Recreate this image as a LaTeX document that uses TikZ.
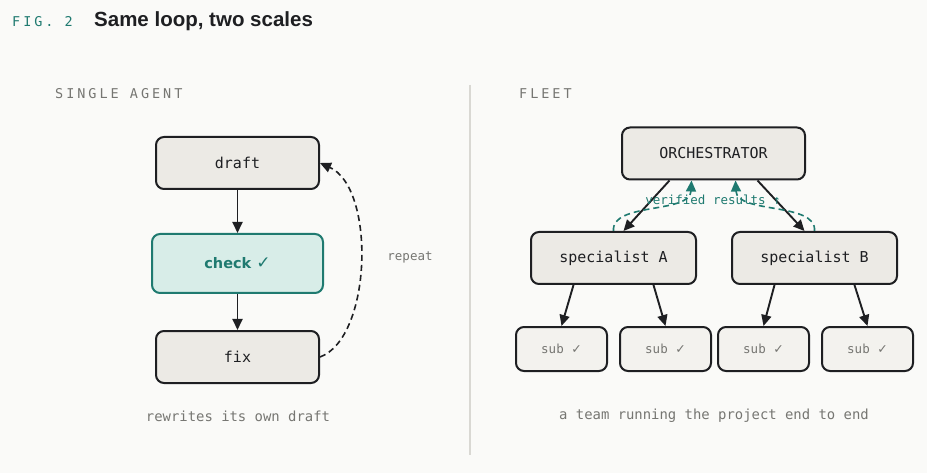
\documentclass[tikz,border=0pt]{standalone}
\usepackage{fontspec}
\setmainfont{DejaVu Sans Mono}
\newfontfamily\headfont{Liberation Sans}
\newfontfamily\checkfont{DejaVu Sans}
\newfontfamily\trackfont[LetterSpace=22]{DejaVu Sans Mono}
\usetikzlibrary{arrows.meta, positioning}
\definecolor{paper}{HTML}{FAFAF8}
\definecolor{boxfill}{HTML}{ECEAE5}
\definecolor{subfill}{HTML}{F3F2EE}
\definecolor{ink}{HTML}{1E1F22}
\definecolor{tealink}{HTML}{1F7A70}
\definecolor{checkfill}{HTML}{D8EDE8}
\definecolor{muted}{HTML}{767672}
\definecolor{rulegray}{HTML}{D9D8D3}
\newcommand{\ok}{{\checkfont ✓}}

\begin{document}
\begin{tikzpicture}[
  x=1pt, y=-1pt,
  font=\fontsize{15}{17}\selectfont,
  box/.style={draw=ink, fill=boxfill, line width=2pt, rounded corners=8pt, inner sep=0pt, text=ink, minimum width=163pt, minimum height=52pt},
  checkbox/.style={box, draw=tealink, fill=checkfill, text=tealink, minimum width=171pt, minimum height=59pt, font=\checkfont\bfseries\fontsize{14.5}{16}\selectfont},
  specbox/.style={box, minimum width=165pt},
  subbox/.style={box, fill=subfill, text=muted, minimum width=91pt, minimum height=44pt, font=\fontsize{12.5}{14}\selectfont},
  label/.style={text=muted, font=\trackfont\fontsize{13.5}{15}\selectfont, anchor=west},
  caption/.style={text=muted, font=\fontsize{13.9}{15}\selectfont},
  arrow/.style={draw=ink, line width=1.9pt, -{Triangle[length=11pt,width=10pt]}},
  loop/.style={draw=ink, line width=1.6pt, dash pattern=on 6pt off 4pt, -{Triangle[length=11pt,width=10pt]}},
  report/.style={draw=tealink, line width=1.6pt, dash pattern=on 6pt off 4pt, -{Triangle[length=11pt,width=10pt]}}
]
\fill[paper] (0,0) rectangle (927,473);

% --- Heading ---
\node[anchor=west, inner sep=0pt, text=tealink, font=\trackfont\fontsize{13.5}{15}\selectfont] (fig) at (12,22) {FIG. 2};
\node[anchor=west, inner sep=0pt, text=ink, font=\headfont\bfseries\fontsize{20.5}{24}\selectfont] (title) at (94,21) {Same loop, two scales};

% --- Divider ---
\draw[rulegray, line width=1.2pt] (470,85) -- (470,455);

% --- Single agent ---
\node[label, inner sep=0pt] (single) at (55,94) {SINGLE AGENT};

\node[box] (draft) at (237.5,163) {draft};
\node[checkbox, below=43pt of draft] (check) {check {\fontsize{17}{17}\selectfont ✓}};
\node[box, below=36pt of check] (fix) {fix};

\node[text=muted, font=\fontsize{12.5}{14}\selectfont] (repeat) at (410,257) {repeat};
\node[caption] (singlecap) at (238,416) {rewrites its own draft};

\draw[arrow] (draft) -- (check);
\draw[arrow] (check) -- (fix);
\draw[loop] (fix.east) .. controls (372,338) and (376,188) .. (draft.east);

% --- Fleet ---
\node[label, inner sep=0pt] (fleet) at (519,94) {FLEET};

\node[box, minimum width=183pt] (orch) at (713.5,153.5) {ORCHESTRATOR};
\node[specbox] (specA) at (613.5,258) {specialist A};
\node[specbox] (specB) at (814.5,258) {specialist B};

\node[subbox] (subA1) at (561.5,349) {sub \ok};
\node[subbox] (subA2) at (665.5,349) {sub \ok};
\node[subbox] (subB1) at (763.5,349) {sub \ok};
\node[subbox] (subB2) at (867.5,349) {sub \ok};

\node[caption] (fleetcap) at (714,416) {a team running the project end to end};

\draw[arrow] ([xshift=-44pt]orch.south) -- ([xshift=10pt]specA.north);
\draw[arrow] ([xshift=44pt]orch.south) -- ([xshift=-10pt]specB.north);

\draw[report] (specA.north) .. controls (611,202) and (690,214) .. ([xshift=-22pt]orch.south);
\draw[report] (specB.north) .. controls (817,202) and (737,214) .. ([xshift=22pt]orch.south);
\node[text=tealink, font=\fontsize{12.5}{14}\selectfont] (verified) at (713,200) {verified results ↑};

\draw[arrow] ([xshift=-40pt]specA.south) -- (subA1.north);
\draw[arrow] ([xshift=40pt]specA.south) -- (subA2.north);
\draw[arrow] ([xshift=-40pt]specB.south) -- (subB1.north);
\draw[arrow] ([xshift=40pt]specB.south) -- (subB2.north);

\end{tikzpicture}
\end{document}
